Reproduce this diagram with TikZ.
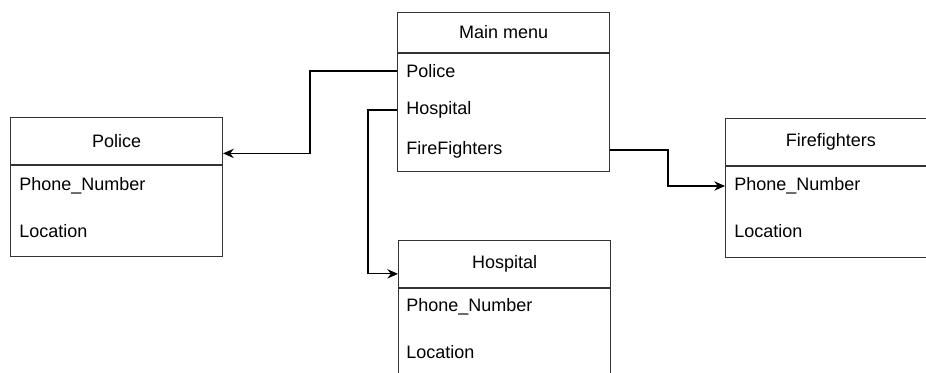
\documentclass[tikz,border=0pt]{standalone}
\usepackage{fontspec}
\setmainfont{Liberation Sans}
\usepackage{xcolor}
\usetikzlibrary{arrows.meta, positioning}

\begin{document}
\begin{tikzpicture}[
			x=0.75pt, y=-0.75pt,
			every node/.style={font=\fontsize{13.5}{16}\selectfont, inner sep=0pt},
			head/.style={rectangle, draw=black!80, line width=0.8pt, anchor=north west, minimum width=159pt, minimum height=35pt},
			body/.style={rectangle, draw=black!80, line width=0.8pt, anchor=north west, minimum width=159pt, minimum height=68.25pt},
			item/.style={anchor=west},
			line/.style={-{Stealth[length=8pt, width=7pt]}, line width=0.9pt}
			]
			
			\useasboundingbox (0,0) rectangle (926,372);
			\clip (0,0) rectangle (926,372);
			
			\node[head, minimum height=30pt] (mainhead) at (397,12) {Main menu};
			\node[body, minimum height=88.5pt] (mainbody) at (mainhead.south west) {};
			\node[item] (mPolice) at (406,71) {Police};
			\node[item] (mHospital) at (406,110) {Hospital};
			\node[item] (mFire) at (406,150) {FireFighters};
			
			\node[head] (policehead) at (10,117) {Police};
			\node[body] (policebody) at (policehead.south west) {};
			\node[item] (pPhone) at (19,186) {Phone\_Number};
			\node[item] (pLoc) at (19,231) {Location};
			
			\node[head, minimum width=158pt] (firehead) at (725,118) {Firefighters};
			\node[body, minimum width=158pt] (firebody) at (firehead.south west) {};
			\node[item] (fPhone) at (734,186) {Phone\_Number};
			\node[item] (fLoc) at (734,231) {Location};
			
			\node[head] (hosphead) at (398,240) {Hospital};
			\node[body] (hospbody) at (hosphead.south west) {};
			\node[item] (hPhone) at (406,307) {Phone\_Number};
			\node[item] (hLoc) at (406,352) {Location};
			
			\draw[line] (mainbody.west |- mPolice) -- (310,71) |- ([yshift=-9.4pt]policehead.east);
			\draw[line] (mainbody.west |- mHospital) -- (368,110) |- ([yshift=-7.5pt]hosphead.west);
			\draw[line] (mainbody.east |- mFire) -- (668,150) |- (firebody.west |- fPhone);
		\end{tikzpicture}
\end{document}
